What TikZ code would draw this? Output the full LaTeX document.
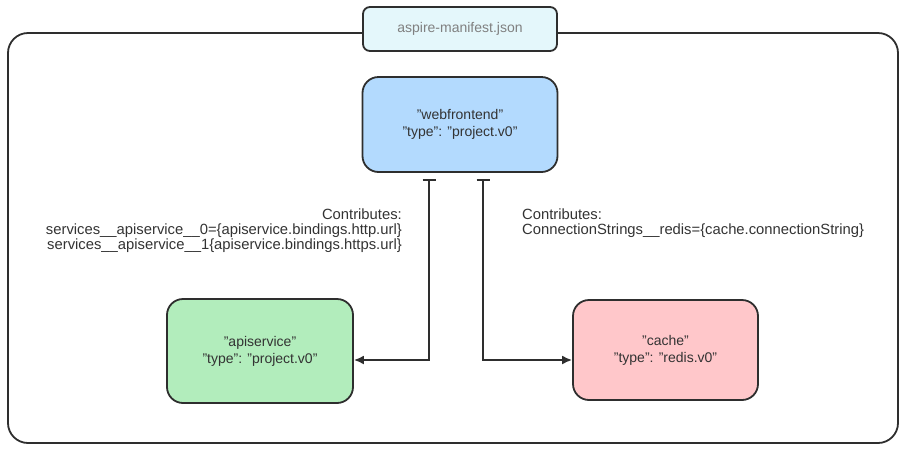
\documentclass[tikz,border=0pt]{standalone}
\usepackage{fontspec}
\setmainfont{Liberation Sans}
\usetikzlibrary{arrows.meta,positioning}
\definecolor{linegray}{HTML}{2E2E2E}
\definecolor{textgray}{HTML}{333333}
\definecolor{titlefill}{HTML}{E4F7FB}
\definecolor{wfblue}{HTML}{B3DAFE}
\definecolor{apigreen}{HTML}{B2EDBC}
\definecolor{cachered}{HTML}{FFC7CA}

\begin{document}
\begin{tikzpicture}[x=1pt,y=-1pt,
    res/.style={draw=linegray, line width=1.8pt, rounded corners=16pt, align=center,
        font=\fontsize{14}{17}\selectfont, text=textgray, inner sep=0pt},
    note/.style={font=\fontsize{14.8}{15}\selectfont, text=textgray, inner sep=0pt},
    link/.style={draw=linegray, line width=1.8pt, {Bar[width=13pt,line width=2pt]}-{Latex[length=10pt,width=9pt]}}
  ]
  \useasboundingbox (0,0) rectangle (906,448);
  % frame and title
  \node (frame) [draw=linegray, line width=1.8pt, rounded corners=20pt, minimum width=890pt, minimum height=410pt] at (453,238) {};
  \node (manifest) [res, fill=titlefill, rounded corners=7pt, minimum width=194pt, minimum height=44pt, text=gray] at (460,29) {aspire-manifest.json};
  % resources
  \node (webfrontend) [res, fill=wfblue, minimum width=195pt, minimum height=95pt] at (460,124.5) {"webfrontend"\\"type": "project.v0"};
  \node (apiservice) [res, fill=apigreen, minimum width=186pt, minimum height=104pt] at (260,351) {"apiservice"\\"type": "project.v0"};
  \node (cache) [res, fill=cachered, minimum width=185pt, minimum height=100pt] at (665.5,350) {"cache"\\"type": "redis.v0"};
  % notes
  \node (apinote) [note, anchor=north east, align=right] at (402,209) {Contributes:\\services\_\_apiservice\_\_0=\{apiservice.bindings.http.url\}\\services\_\_apiservice\_\_1\{apiservice.bindings.https.url\}};
  \node (cachenote) [note, anchor=north west, align=left] at (522,209) {Contributes:\\ConnectionStrings\_\_redis=\{cache.connectionString\}};
  % links
  \draw[link] ([xshift=-31pt,yshift=-6pt]webfrontend.south) |- ([yshift=-9pt]apiservice.east);
  \draw[link] ([xshift=23pt,yshift=-6pt]webfrontend.south) |- ([yshift=-10pt]cache.west);
\end{tikzpicture}
\end{document}
